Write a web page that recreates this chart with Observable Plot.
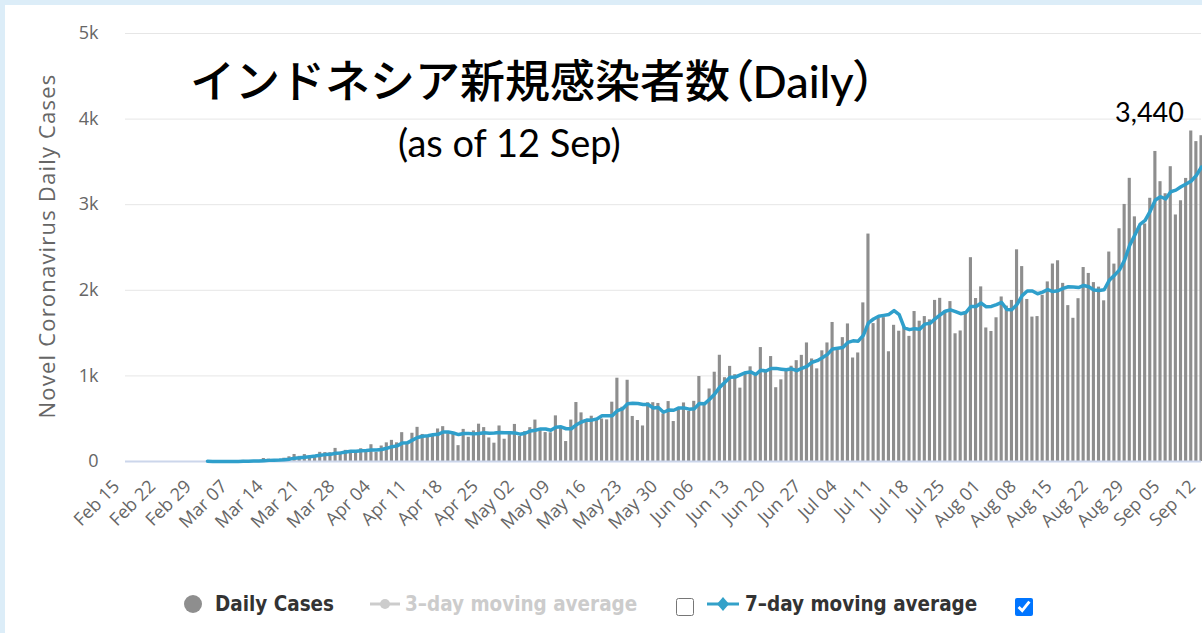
<!DOCTYPE html>
<html>
<head>
<meta charset="utf-8">
<script src="https://cdn.jsdelivr.net/npm/d3@7"></script>
<script src="https://cdn.jsdelivr.net/npm/@observablehq/plot@0.6"></script>
<style>
  body { margin:0; width:1202px; height:633px; overflow:hidden; position:relative; background:#dcedf8; }
  #panel { position:absolute; left:5px; top:5px; right:0; bottom:0; background:#fff; }
  #chart { position:absolute; left:0; top:0; }
  .abs { position:absolute; white-space:nowrap; }
  #title { left:190px; top:59px; font-family:Lato, "Noto Sans CJK JP", sans-serif; font-size:45px; font-weight:500; color:#000; line-height:1; }
  #title .p { font-feature-settings:"palt"; }
  #subtitle { left:398px; top:123px; font-family:Lato, "Noto Sans CJK JP", sans-serif; font-size:38px; color:#000; line-height:1; }
  #ylabel { left:46px; top:246px; transform:translate(-50%,-50%) rotate(-90deg); font-family:"Open Sans", sans-serif; font-size:22px; letter-spacing:1.2px; color:#666; }
  .leg { font-family:"Liberation Sans Narrow","DejaVu Sans Condensed",sans-serif; font-stretch:condensed; font-weight:bold; font-size:22px; line-height:1; top:593px; transform:scaleX(0.93); transform-origin:0 50%; }
  input[type=checkbox] { position:absolute; margin:0; width:18px; height:18px; top:598px; }
</style>
</head>
<body>
<div id="panel"></div>
<div id="chart"></div>
<div id="title" class="abs">インドネシア新規感染者数<span class="p">（</span>Daily<span class="p">）</span></div>
<div id="subtitle" class="abs">(as of 12 Sep)</div>
<div id="ylabel" class="abs">Novel Coronavirus Daily Cases</div>

<svg class="abs" style="left:183px;top:594px" width="20" height="20"><circle cx="10" cy="10" r="9" fill="#8e8e8e"/></svg>
<div class="abs leg" style="left:215px;color:#333">Daily Cases</div>
<svg class="abs" style="left:369px;top:594px" width="32" height="20"><line x1="1" y1="10" x2="31" y2="10" stroke="#cccccc" stroke-width="3"/><circle cx="16" cy="10" r="5" fill="#cccccc"/></svg>
<div class="abs leg" style="left:405px;color:#cccccc">3–day moving average</div>
<input type="checkbox" style="left:676px">
<svg class="abs" style="left:706px;top:594px" width="34" height="20"><line x1="1" y1="10" x2="33" y2="10" stroke="#33a1c9" stroke-width="3"/><path d="M17 3 L23 10 L17 17 L11 10 Z" fill="#33a1c9"/></svg>
<div class="abs leg" style="left:745px;color:#333">7–day moving average</div>
<input type="checkbox" checked style="left:1015px">

<script>
// ---- data ----
const startDate = "2020-03-02";
const xDomain = ["2020-02-15", "2020-09-12"];
const dailyCases = [
  // Mar 2 - Mar 31
  2,0,0,0,2,0,2,13,8,7,0,35,27,21,17,38,55,82,60,81,64,65,107,104,103,153,109,130,129,114,
  // Apr
  149,113,196,106,181,218,247,218,337,219,330,399,316,282,297,380,407,325,327,185,375,283,357,436,396,275,214,415,260,347,
  // May
  433,292,349,395,484,367,338,336,533,387,233,484,689,568,490,529,489,496,486,693,973,634,949,526,479,415,686,687,678,557,700,
  // Jun
  467,609,684,585,703,993,672,847,1043,1241,979,1111,1014,857,1017,1106,1031,1331,1041,1226,862,954,1051,1113,1178,1240,1385,1198,1082,1293,
  // Jul
  1385,1624,1301,1447,1607,1209,1268,1853,2657,1611,1671,1681,1282,1591,1522,1574,1462,1752,1639,1693,1655,1882,1906,1761,1868,1492,1525,1748,2381,1904,2040,
  // Aug
  1560,1519,1679,1922,1815,1882,2473,2277,1893,1687,1693,1942,2098,2307,2345,2081,1821,1673,1902,2266,2197,2090,2037,1877,2447,2306,2719,3003,3308,2858,2743,
  // Sep 1 - 12
  2775,3075,3622,3269,3128,3444,2880,3046,3307,3861,3737,3806
];
const xTickLabels = ["Feb 15","Feb 22","Feb 29","Mar 07","Mar 14","Mar 21","Mar 28","Apr 04","Apr 11","Apr 18","Apr 25",
  "May 02","May 09","May 16","May 23","May 30","Jun 06","Jun 13","Jun 20","Jun 27","Jul 04","Jul 11","Jul 18","Jul 25",
  "Aug 01","Aug 08","Aug 15","Aug 22","Aug 29","Sep 05","Sep 12"];
const yTicks = [0, 1000, 2000, 3000, 4000, 5000];
const windowSize = 7;

// ---- build ----
const parseISO = d3.utcParse("%Y-%m-%d");
const parseTick = d3.utcParse("%b %d %Y");
const start = parseISO(startDate);
const rows = dailyCases.map((c, i) => ({date: d3.utcDay.offset(start, i), cases: c}));
const tickDates = xTickLabels.map(s => parseTick(s + " 2020"));
const halfDay = 12 * 3600 * 1000;
const last = rows[rows.length - 1];
const lastAvg = d3.mean(rows.slice(-windowSize), d => d.cases);

const chart = Plot.plot({
  width: 1202, height: 560,
  marginLeft: 125, marginRight: 1, marginTop: 33, marginBottom: 99,
  style: {background: "transparent", fontFamily: "'Open Sans', sans-serif", overflow: "visible"},
  x: {type: "utc", domain: xDomain.map(parseISO)},
  y: {domain: [0, 5000]},
  marks: [
    Plot.gridY(yTicks, {stroke: "#e6e6e6", strokeOpacity: 1}),
    Plot.axisY({ticks: yTicks, tickFormat: d => d === 0 ? "0" : d / 1000 + "k", tickSize: 0, tickPadding: 27, fontSize: 18, color: "#666", label: null}),
    Plot.axisX({ticks: tickDates, tickFormat: d3.utcFormat("%b %d"), tickRotate: -45, tickSize: 0, tickPadding: 22, dx: -9, fontSize: 18, color: "#666", label: null}),
    Plot.rect(rows, {x1: d => new Date(+d.date - halfDay), x2: d => new Date(+d.date + halfDay), y1: 0, y2: "cases", fill: "#8e8e8e", insetLeft: 1, insetRight: 1}),
    Plot.ruleY([0], {stroke: "#ccd6eb", strokeWidth: 2}),
    Plot.lineY(rows, Plot.windowY({k: windowSize, anchor: "end", strict: false}, {x: "date", y: "cases", stroke: "#2f9fcb", strokeWidth: 3.5})),
    Plot.text([{date: last.date, avg: lastAvg}], {x: "date", y: "avg", text: d => d3.format(",.0f")(d.avg), dx: -52, dy: -54, fontSize: 27, fill: "#000", fontFamily: "Lato, sans-serif"})
  ]
});
document.getElementById("chart").appendChild(chart);
</script>
</body>
</html>
